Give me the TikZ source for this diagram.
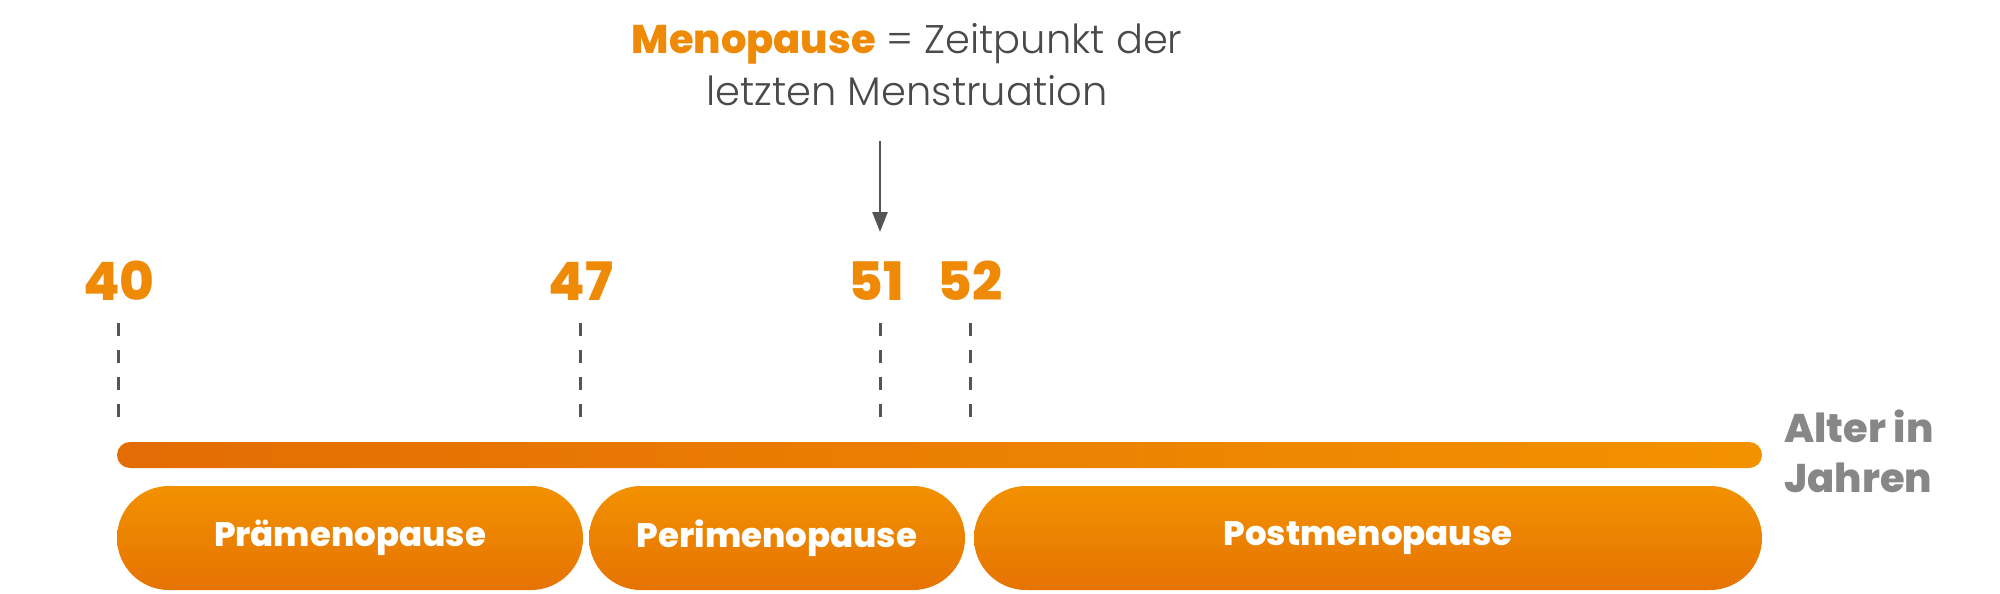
\documentclass[tikz,border=0pt]{standalone}
\usepackage{fontspec}
\setmainfont{Poppins}
\newfontfamily\heavy{Poppins ExtraBold}
\newfontfamily\light{Poppins Light}
\usetikzlibrary{arrows.meta}
\definecolor{orangetxt}{HTML}{EF8A06}
\definecolor{barleft}{HTML}{E36C04}
\definecolor{barright}{HTML}{F39200}
\definecolor{pilltop}{HTML}{F29100}
\definecolor{pillbot}{HTML}{E67303}
\definecolor{darkgray}{HTML}{555555}
\definecolor{titlegray}{HTML}{4A4A4A}
\definecolor{axisgray}{HTML}{878787}
\tikzset{
  pill/.style={rectangle, rounded corners=52pt, inner sep=0pt, minimum height=104pt,
    top color=pilltop, bottom color=pillbot, draw=none, text=white,
    font=\heavy\fontsize{34}{40}\selectfont},
  yearlabel/.style={anchor=base, text=orangetxt, inner sep=0pt,
    font=\heavy\fontsize{53}{56}\selectfont},
  dashline/.style={draw=darkgray, line width=3pt, dash pattern=on 13pt off 14pt},
  titleline/.style={anchor=base, inner sep=0pt, text=titlegray,
    font=\light\fontsize{40}{52}\selectfont},
  axislabel/.style={anchor=base west, inner sep=0pt, text=axisgray,
    font=\heavy\fontsize{40}{50}\selectfont},
  pointer/.style={draw=darkgray, line width=2.5pt, -{Triangle[width=15pt,length=20pt]}}
}
\begin{document}
\begin{tikzpicture}[x=1pt,y=-1pt]
\useasboundingbox (0,0) rectangle (2000,594);
% title
\node[titleline] (t1) at (907,54) {{\heavy\color{orangetxt}Menopause} = Zeitpunkt der};
\node[titleline] (t2) at (907,106) {letzten Menstruation};
% arrow
\coordinate (arrtop) at (880,141);
\coordinate (arrtip) at (880,232);
\draw[pointer] (arrtop) -- (arrtip);
% year labels
\node[yearlabel] (y40) at (119,300) {40};
\node[yearlabel] (y47) at (581,300) {47};
\node[yearlabel] (y51) at (876,300) {51};
\node[yearlabel] (y52) at (970,300) {52};
% dashed markers
\foreach \n/\x in {40/118.6,47/580,51/880,52/970}{
  \coordinate (d\n a) at (\x,323);
  \coordinate (d\n b) at (\x,417);
  \draw[dashline] (d\n a) -- (d\n b);
}
% bar
\node[rectangle, rounded corners=13pt, minimum width=1645pt, minimum height=26pt,
  inner sep=0pt, left color=barleft, right color=barright, draw=none] (bar) at (939.5,455) {};
% phases
\node[pill, minimum width=466pt] (pre) at (350,538) {Prämenopause};
\node[pill, minimum width=376pt] (peri) at (777,538) {Perimenopause};
\node[pill, minimum width=788pt] (post) at (1368,538) {Postmenopause};
% axis label
\node[axislabel] (ax1) at (1784,442) {Alter in};
\node[axislabel] (ax2) at (1784,492) {Jahren};
\end{tikzpicture}
\end{document}
